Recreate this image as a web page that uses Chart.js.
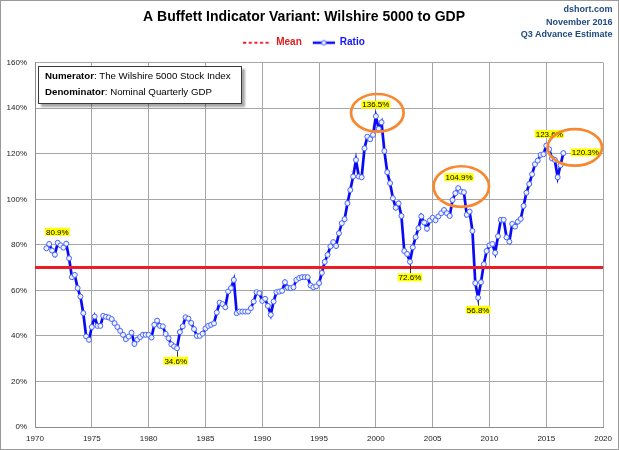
<!DOCTYPE html>
<html><head><meta charset="utf-8">
<script src="https://cdn.jsdelivr.net/npm/chart.js@4.4.1/dist/chart.umd.min.js"></script>
<style>
html,body{margin:0;padding:0;background:#fff;}
#wrap{position:relative;width:619px;height:450px;overflow:hidden;}
canvas{display:block;}
.note{position:absolute;left:38px;top:66px;width:204px;height:38px;box-sizing:border-box;border:1px solid #3a3a3a;background:#fff;box-shadow:3px 3px 2px rgba(0,0,0,0.35);font-family:'Liberation Sans',Arial,sans-serif;font-size:9.7px;line-height:11px;color:#000;}
.note div{position:absolute;left:6px;white-space:nowrap;}
.src{position:absolute;right:6.5px;top:3.3px;text-align:right;font:bold 9px 'Liberation Sans',Arial,sans-serif;color:#1F497D;line-height:12.5px;}
</style></head>
<body><div id="wrap"><canvas id="c" width="619" height="450"></canvas>
<div class="src">dshort.com<br>November 2016<br>Q3 Advance Estimate</div>
<div class="note"><div style="top:2.8px"><b>Numerator</b>: The Wilshire 5000 Stock Index</div><div style="top:19.2px"><b>Denominator</b>: Nominal Quarterly GDP</div></div>
</div>
<script>
// ---- data (quarterly, first point = 1971 Q1) ----
const firstYear = 1971;
const ratio = [
  78.5, 80.4, 77.5, 75.7, 80.9, 79.8, 78.8, 80.5, 74.1, 65.8,
  66.8, 61.0, 57.3, 50.0, 39.8, 38.3, 43.9, 48.5, 44.4, 44.4,
  48.8, 48.4, 48.1, 47.4, 45.6, 43.9, 42.2, 40.5, 38.6, 39.7,
  41.4, 36.5, 38.4, 39.5, 40.5, 40.5, 40.5, 39.3, 44.9, 46.7,
  44.4, 44.2, 40.9, 39.0, 36.3, 35.4, 34.6, 41.7, 44.2, 48.2,
  47.6, 45.7, 43.0, 40.0, 40.0, 41.0, 43.3, 44.4, 44.9, 45.5,
  50.3, 54.6, 54.0, 52.6, 59.5, 61.0, 64.6, 50.0, 50.7, 50.7,
  50.7, 50.7, 52.2, 55.1, 59.2, 58.8, 55.4, 56.3, 53.2, 49.3,
  55.1, 59.2, 59.5, 59.8, 63.6, 61.2, 61.0, 61.4, 64.6, 65.4,
  65.8, 65.8, 65.8, 62.2, 61.4, 61.8, 63.2, 67.7, 72.5, 75.6,
  79.3, 81.2, 79.5, 85.1, 89.5, 91.3, 98.3, 104.1, 110.0, 117.3,
  110.0, 109.7, 122.4, 127.5, 126.4, 128.3, 136.5, 131.0, 133.8, 121.2,
  111.9, 107.1, 100.5, 96.3, 98.2, 92.7, 77.3, 76.0, 72.6, 78.9,
  83.4, 87.3, 92.5, 89.8, 87.1, 90.7, 91.9, 90.8, 92.5, 93.9,
  95.3, 93.9, 92.7, 99.7, 102.7, 104.9, 103.4, 103.1, 93.2, 94.6,
  86.1, 63.2, 56.8, 63.6, 71.5, 77.3, 79.8, 80.4, 76.5, 83.8,
  91.0, 91.0, 83.3, 81.4, 89.2, 88.0, 90.2, 91.4, 97.1, 102.9,
  106.7, 111.0, 115.4, 117.0, 119.5, 119.8, 123.6, 122.0, 118.0, 117.3,
  109.7, 115.0, 120.3
];
const meanValue = 70.1;
const meanSpan = [1970, 2020];
const xTickValues = [1970, 1975, 1980, 1985, 1990, 1995, 2000, 2005, 2010, 2015, 2020];
const yTickValues = [0, 20, 40, 60, 80, 100, 120, 140, 160];
const seriesNames = ['Mean', 'Ratio'];
const labeledPoints = [4, 46, 116, 128, 145, 152, 176, 182];
const circledAt = [[2000.13, 138.0], [2007.52, 105.6], [2017.51, 122.8]];

// ---- styling ----
const FONT = "'Liberation Sans', Arial, sans-serif";
const GRID = '#a6a6a6';
const RED = '#EE1C25';
const BLUE = '#0A0AF5';

function legendImage(kind){
  const c = document.createElement('canvas'); c.width = 28; c.height = 8;
  const g = c.getContext('2d');
  if (kind === 0){
    g.strokeStyle = RED; g.lineWidth = 2; g.setLineDash([3,2.6]);
    g.beginPath(); g.moveTo(0,4); g.lineTo(28,4); g.stroke();
  } else {
    g.strokeStyle = BLUE; g.lineWidth = 2.5;
    g.beginPath(); g.moveTo(6,4); g.lineTo(28,4); g.stroke();
    g.beginPath(); g.arc(17,4,2.3,0,Math.PI*2); g.fillStyle='#F0F3FF'; g.fill();
    g.lineWidth = 1; g.strokeStyle='#4665FF'; g.stroke();
  }
  return c;
}
const legendImgs = [legendImage(0), legendImage(1)];
const legendColors = ['#E01B1B', '#1414FF'];

const frame = {
  id:'frame',
  beforeDraw(chart){
    const ctx = chart.ctx; ctx.save();
    ctx.fillStyle = '#fff'; ctx.fillRect(0,0,chart.width,chart.height);
    ctx.strokeStyle = '#9a9a9a'; ctx.lineWidth = 1;
    ctx.strokeRect(0.5,0.5,chart.width-1,chart.height-1);
    ctx.restore();
  }
};
const legendGap = {
  id:'legendGap',
  afterInit(chart){
    const lg = chart.legend; if (!lg) return;
    const f = lg.fit;
    lg.fit = function(){ f.call(this); this.height += 5; };
  }
};
const annot = {
  id:'annot',
  afterDatasetsDraw(chart, args, opts){
    const {ctx, scales:{x, y}} = chart;
    const meta = chart.getDatasetMeta(1);
    ctx.save();
    ctx.font = '8px ' + FONT;
    ctx.textAlign = 'center'; ctx.textBaseline = 'middle';
    opts.labels.forEach(l => {
      const pt = meta.data[l.i];
      const txt = ratio[l.i].toFixed(1) + '%';
      const w = ctx.measureText(txt).width + 2;
      const cx = pt.x + l.dx, cy = pt.y + l.dy;
      if (l.lead){
        ctx.strokeStyle = '#333'; ctx.lineWidth = 1;
        ctx.beginPath(); ctx.moveTo(Math.round(pt.x)+0.5, pt.y+3); ctx.lineTo(Math.round(pt.x)+0.5, cy-4); ctx.stroke();
      }
      ctx.fillStyle = '#FFFF00';
      ctx.fillRect(cx - w/2, cy - 4, w, 8);
      ctx.fillStyle = '#000';
      ctx.fillText(txt, cx, cy + 0.5);
    });
    ctx.strokeStyle = '#F7882F'; ctx.lineWidth = 2.7;
    opts.ellipses.forEach((e, k) => {
      ctx.beginPath();
      ctx.ellipse(x.getPixelForValue(circledAt[k][0]), y.getPixelForValue(circledAt[k][1]), e.rx, e.ry, 0, 0, Math.PI*2);
      ctx.stroke();
    });
    ctx.restore();
  }
};

new Chart(document.getElementById('c'), {
  type: 'line',
  data: {
    datasets: [
      { label: seriesNames[0], data: meanSpan.map(v => ({x: v, y: meanValue})),
        borderColor: RED, borderWidth: 3, pointRadius: 0, order: 0 },
      { label: seriesNames[1], data: ratio.map((v, i) => ({x: firstYear + i/4, y: v})),
        borderColor: BLUE, borderWidth: 2.7, tension: 0,
        pointRadius: 2.5, pointBackgroundColor: '#F0F3FF', pointBorderColor: '#4665FF', pointBorderWidth: 1, order: 1 }
    ]
  },
  options: {
    responsive: false, animation: false, devicePixelRatio: 1,
    layout: { padding: { left: 0, right: 11, top: 0, bottom: 0 } },
    scales: {
      x: { type: 'linear', min: xTickValues[0], max: xTickValues[xTickValues.length-1],
        afterBuildTicks(s){ s.ticks = xTickValues.map(v => ({value: v})); },
        ticks: { color: '#222', font: {family: FONT, size: 8}, padding: 7, maxRotation: 0, autoSkip: false, callback: v => String(v) },
        grid: { color: GRID, drawTicks: false }, border: { color: '#8c8c8c' },
        afterFit(s){ s.height = 23; } },
      y: { min: yTickValues[0], max: yTickValues[yTickValues.length-1],
        afterBuildTicks(s){ s.ticks = yTickValues.map(v => ({value: v})); },
        ticks: { color: '#222', font: {family: FONT, size: 8}, padding: 8, callback: v => v + '%' },
        grid: { color: GRID, drawTicks: false }, border: { color: '#8c8c8c' },
        afterFit(s){ s.width = 35; } }
    },
    plugins: {
      title: { display: true, text: 'A Buffett Indicator Variant: Wilshire 5000 to GDP', color: '#000',
        font: { family: FONT, size: 14, weight: 'bold' }, padding: { top: 9, bottom: 6.9 } },
      legend: { display: true,
        labels: { usePointStyle: true, pointStyleWidth: 28, padding: 5,
          font: { family: FONT, size: 10, weight: 'bold' },
          generateLabels(chart){
            return chart.data.datasets.map((ds, i) => ({
              text: ds.label, fontColor: legendColors[i], pointStyle: legendImgs[i], datasetIndex: i,
              hidden: false, lineWidth: 0, strokeStyle: 'rgba(0,0,0,0)', fillStyle: 'rgba(0,0,0,0)'
            }));
          } } },
      tooltip: { enabled: false },
      annot: {
        labels: [
          {i: 4, dx: -0.4, dy: -11}, {i: 46, dx: -1.3, dy: 12.6, lead: true},
          {i: 116, dx: 0, dy: -11.5}, {i: 128, dx: 0, dy: 15.7, lead: true},
          {i: 145, dx: 0.8, dy: -11}, {i: 152, dx: 0, dy: 12.2, lead: true},
          {i: 176, dx: 3, dy: -11.6}, {i: 182, dx: 22, dy: -0.7}
        ],
        ellipses: [ {rx: 26.3, ry: 18.8}, {rx: 27.7, ry: 20.3}, {rx: 27.2, ry: 18.2} ]
      }
    }
  },
  plugins: [frame, legendGap, annot]
});
</script>
</body></html>
